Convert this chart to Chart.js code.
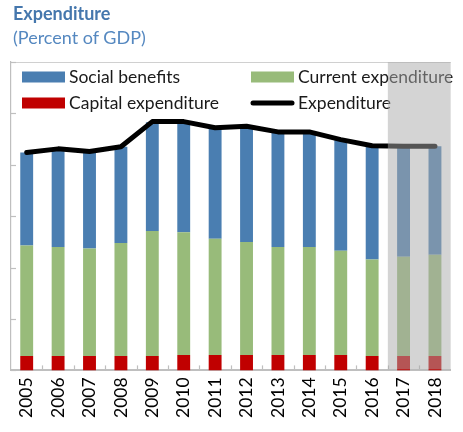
<!DOCTYPE html>
<html>
<head>
<meta charset="utf-8">
<script src="https://cdn.jsdelivr.net/npm/chart.js@4.4.0/dist/chart.umd.min.js"></script>
<style>
    body { margin: 0; background: #fff; }
    #wrap { position: relative; width: 463px; height: 432px; }
    #t1, #t2 { position: absolute; left: 13px; font-family: Lato; font-size: 18px; line-height: 18px; white-space: nowrap; }
    #t1 { top: 4px; font-weight: bold; color: #4577ad; }
    #t2 { top: 28px; color: #5588c0; }
    canvas { display: block; }
</style>
</head>
<body>
<div id="wrap">
    <canvas id="chart" width="463" height="432"></canvas>
    <div id="t1">Expenditure</div>
    <div id="t2">(Percent of GDP)</div>
</div>
<script>
const years = ['2005', '2006', '2007', '2008', '2009', '2010', '2011', '2012', '2013', '2014', '2015', '2016', '2017', '2018'];
const capital = [2.8, 2.8, 2.8, 2.8, 2.8, 3.0, 3.0, 3.0, 3.0, 3.0, 3.0, 2.8, 2.8, 2.8];
const current = [21.5, 21.2, 20.9, 22.0, 24.3, 23.9, 22.6, 22.0, 21.0, 21.0, 20.3, 18.8, 19.3, 19.7];
const social = [18.1, 19.0, 18.9, 18.7, 21.2, 21.4, 21.6, 22.2, 22.3, 22.3, 21.5, 22.0, 21.5, 21.1];
const expenditure = [42.4, 43.1, 42.6, 43.5, 48.4, 48.4, 47.2, 47.5, 46.4, 46.4, 44.9, 43.7, 43.6, 43.6];
const yTicks = [0, 10, 20, 30, 40, 50, 60];
const firstProjection = '2017';

const axisGrey = '#bfbfbf';

// legend drawn inside the plot, in two columns
const legendSlots = [
    { label: 'Social benefits', col: 0, row: 0 },
    { label: 'Current expenditure', col: 1, row: 0 },
    { label: 'Capital expenditure', col: 0, row: 1 },
    { label: 'Expenditure', col: 1, row: 1 },
];

const insidePlugin = {
    id: 'inside',
    afterDatasetsDraw(chart) {
        const ctx = chart.ctx;
        const area = chart.chartArea;
        const x = chart.scales.x;
        const y = chart.scales.y;
        const step = x.getPixelForValue(1) - x.getPixelForValue(0);

        ctx.save();
        // top border
        ctx.strokeStyle = '#d0d0d0';
        ctx.lineWidth = 1.2;
        ctx.beginPath();
        ctx.moveTo(area.left, area.top + 0.5);
        ctx.lineTo(area.right, area.top + 0.5);
        ctx.stroke();

        // inward tick marks
        ctx.strokeStyle = axisGrey;
        ctx.lineWidth = 1.2;
        yTicks.forEach(v => {
            const py = Math.round(y.getPixelForValue(v)) + 0.5;
            ctx.beginPath();
            ctx.moveTo(area.left, py);
            ctx.lineTo(area.left + 5, py);
            ctx.stroke();
        });
        for (let i = 1; i < years.length; i++) {
            const px = Math.round(x.getPixelForValue(i) - step / 2) + 0.5;
            ctx.beginPath();
            ctx.moveTo(px, area.bottom);
            ctx.lineTo(px, area.bottom - 5);
            ctx.stroke();
        }

        // legend
        ctx.font = '17.5px Lato';
        ctx.textBaseline = 'middle';
        legendSlots.forEach(slot => {
            const ds = chart.data.datasets.find(d => d.label === slot.label);
            const lx = [22, 251][slot.col];
            const ly = [77, 103][slot.row];
            if (ds.type === 'line') {
                ctx.strokeStyle = ds.borderColor;
                ctx.lineWidth = 5;
                ctx.lineCap = 'round';
                ctx.beginPath();
                ctx.moveTo(lx + 2, ly);
                ctx.lineTo(lx + 41, ly);
                ctx.stroke();
            } else {
                ctx.fillStyle = ds.backgroundColor;
                ctx.fillRect(lx, ly - 5.5, 43, 11);
            }
            ctx.fillStyle = '#1a1a1a';
            ctx.fillText(slot.label, lx + 47, ly);
        });

        // projection shading
        const sx = x.getPixelForValue(years.indexOf(firstProjection)) - step / 2;
        ctx.fillStyle = 'rgba(169, 169, 169, 0.5)';
        ctx.fillRect(sx, area.top, area.right - sx, area.bottom - area.top - 1);
        ctx.restore();
    }
};

const ctx = document.getElementById('chart').getContext('2d');
new Chart(ctx, {
    type: 'bar',
    data: {
        labels: years,
        datasets: [
            {
                type: 'line',
                label: 'Expenditure',
                data: expenditure,
                borderColor: '#000000',
                borderWidth: 5,
                borderCapStyle: 'round',
                borderJoinStyle: 'round',
                pointRadius: 0,
                tension: 0,
                stack: 'total',
            },
            { label: 'Capital expenditure', data: capital, backgroundColor: '#c00000', stack: 'bars' },
            { label: 'Current expenditure', data: current, backgroundColor: '#98bb7a', stack: 'bars' },
            { label: 'Social benefits', data: social, backgroundColor: '#4a7eb1', stack: 'bars' },
        ],
    },
    options: {
        responsive: false,
        animation: false,
        barPercentage: 0.41,
        categoryPercentage: 1.0,
        layout: { padding: { top: 62, left: 11, right: 1, bottom: 7 } },
        plugins: {
            legend: { display: false },
            tooltip: { enabled: false },
        },
        scales: {
            x: {
                stacked: true,
                grid: { display: false, drawTicks: false },
                border: { color: axisGrey, width: 2 },
                ticks: {
                    minRotation: 90,
                    maxRotation: 90,
                    padding: 7,
                    color: '#000000',
                    font: { family: 'Lato', size: 17.5 },
                },
            },
            y: {
                stacked: true,
                min: 0,
                max: 60,
                ticks: { display: false, stepSize: 10 },
                grid: { display: false, drawTicks: false },
                border: { color: axisGrey, width: 1.2 },
            },
        },
    },
    plugins: [insidePlugin],
});
</script>
</body>
</html>
